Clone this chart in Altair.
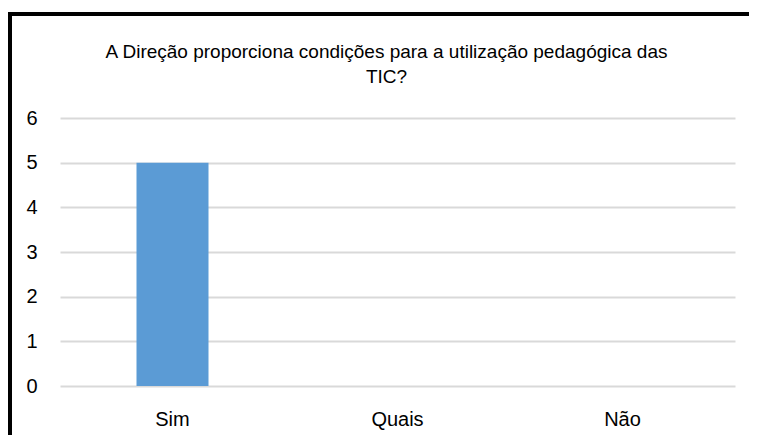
import altair as alt
import pandas as pd

categories = ["Sim", "Quais", "Não"]
values = [5, 0, 0]
y_ticks = [0, 1, 2, 3, 4, 5, 6]
title_lines = ["A Direção proporciona condições para a utilização pedagógica das", "TIC?"]

FONT = "Liberation Sans"

df = pd.DataFrame({"cat": categories, "val": values})

bars = alt.Chart(df).mark_bar(color="#5B9BD5").encode(
    x=alt.X(
        "cat:N",
        sort=categories,
        scale=alt.Scale(paddingInner=0.68, paddingOuter=0.34),
        axis=alt.Axis(title=None, labelAngle=0, domain=False, ticks=False,
                      labelPadding=23, labelFontSize=20, labelColor="#000000",
                      labelFont=FONT),
    ),
    y=alt.Y(
        "val:Q",
        scale=alt.Scale(domain=[0, 6], nice=False),
        axis=alt.Axis(title=None, values=y_ticks, domain=False, ticks=False,
                      grid=True, gridColor="#d9d9d9", gridWidth=2,
                      labelPadding=23, labelFontSize=20, labelColor="#000000",
                      labelFont=FONT),
    ),
)

frame = pd.DataFrame({"k": [0]})
left_border = alt.Chart(frame).mark_rule(color="black", strokeWidth=6).encode(
    x=alt.value(-51), y=alt.value(-106), y2=alt.value(420)
)
top_border = alt.Chart(frame).mark_rule(color="black", strokeWidth=4).encode(
    x=alt.value(-54), x2=alt.value(720), y=alt.value(-104)
)

chart = alt.layer(bars, left_border, top_border).properties(
    width=675,
    height=268,
    padding={"left": 52, "top": 110, "right": 14, "bottom": 49},
    autosize=alt.AutoSizeParams(type="none"),
    background="white",
    title=alt.TitleParams(
        title_lines, fontSize=19, font=FONT, color="#000000", fontWeight="normal",
        anchor="middle", dx=-11, offset=-97, baseline="bottom", lineHeight=25,
    ),
).configure_view(stroke=None)

chart.save("out.html", embed_options={"renderer": "svg", "actions": False})
